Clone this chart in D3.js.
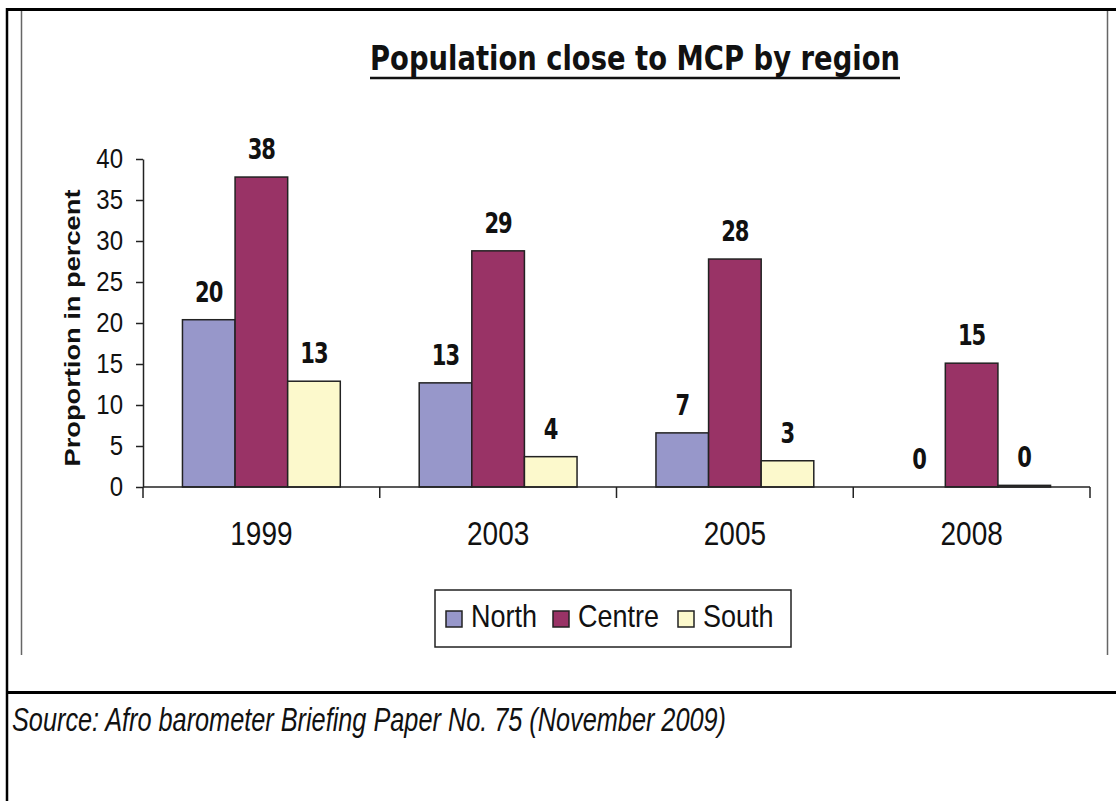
<!DOCTYPE html>
<html>
<head>
<meta charset="utf-8">
<script src="https://cdn.jsdelivr.net/npm/d3@7"></script>
<style>
body { margin: 0; background: #fff; }
svg text { font-family: "Liberation Sans", Arial, sans-serif; fill: #111; }
</style>
</head>
<body>
<div class="diagram"></div>
<script>
var years = ['1999', '2003', '2005', '2008'];
var regions = ['North', 'Centre', 'South'];
var north = [20.4, 12.7, 6.6, 0];
var centre = [37.8, 28.8, 27.8, 15.1];
var south = [12.9, 3.7, 3.2, 0.2];
var yTicks = [0, 5, 10, 15, 20, 25, 30, 35, 40];
var colors = ['#9797ca', '#993366', '#fcf9cc'];

var width = 1116, height = 801;
var series = [north, centre, south];

var svg = d3.select('.diagram')
	.append('svg')
	.attr('width', width)
	.attr('height', height);

// page frame (table cell + picture edges)
var frame = svg.append('g').attr('class', 'frame');
frame.append('line').attr('x1', 6).attr('x2', width).attr('y1', 9.5).attr('y2', 9.5)
	.attr('stroke', '#000').attr('stroke-width', 3);
frame.append('line').attr('x1', 7).attr('x2', 7).attr('y1', 8).attr('y2', height)
	.attr('stroke', '#000').attr('stroke-width', 2.5);
frame.append('line').attr('x1', 6).attr('x2', width).attr('y1', 692.5).attr('y2', 692.5)
	.attr('stroke', '#000').attr('stroke-width', 3);
[21.5, 1107.5].forEach(function(x) {
	frame.append('line').attr('x1', x).attr('x2', x).attr('y1', 11).attr('y2', 655)
		.attr('stroke', '#666').attr('stroke-width', 1.5);
});

var x = d3.scaleBand()
	.domain(years)
	.range([143, 1090])
	.paddingInner(1 / 3)
	.paddingOuter(1 / 6);

var x1 = d3.scaleBand()
	.domain(regions)
	.range([0, x.bandwidth()]);

var y = d3.scaleLinear()
	.domain([0, 40])
	.range([487, 159]);

var color = d3.scaleOrdinal().domain(regions).range(colors);

// title
svg.append('text')
	.attr('transform', 'translate(635,70) scale(1,1.1)')
	.attr('text-anchor', 'middle')
	.attr('textLength', 530)
	.attr('lengthAdjust', 'spacingAndGlyphs')
	.style('font-family', '"Liberation Sans Narrow", "DejaVu Sans Condensed", sans-serif')
	.style('font-weight', 'bold')
	.style('font-size', '31px')
	.text('Population close to MCP by region');
svg.append('line').attr('x1', 370).attr('x2', 900).attr('y1', 78).attr('y2', 78)
	.attr('stroke', '#111').attr('stroke-width', 2.5);

// y axis
svg.append('g')
	.attr('class', 'y axis')
	.attr('transform', 'translate(143,0)')
	.call(d3.axisLeft(y).tickValues(yTicks).tickSize(7).tickSizeOuter(0).tickPadding(13))
	.call(function(g) {
		g.selectAll('line, path').attr('stroke', '#222').attr('stroke-width', 1.5);
		g.selectAll('text')
			.attr('transform', 'scale(1,1.15)')
			.style('font-size', '24px')
			.style('font-family', '"Liberation Sans", Arial, sans-serif')
			.attr('fill', '#111');
	});

svg.append('text')
	.attr('transform', 'translate(80,328) rotate(-90)')
	.attr('text-anchor', 'middle')
	.attr('textLength', 277)
	.attr('lengthAdjust', 'spacingAndGlyphs')
	.style('font-weight', 'bold')
	.style('font-size', '22px')
	.text('Proportion in percent');

// bars
var groups = svg.append('g')
	.attr('class', 'bars')
	.selectAll('.group')
	.data(years)
	.enter().append('g')
	.attr('class', 'group')
	.attr('transform', function(d) { return 'translate(' + x(d) + ',0)'; });

groups.selectAll('rect')
	.data(function(d, i) { return regions.map(function(r, j) { return { region: r, value: series[j][i] }; }); })
	.enter().append('rect')
	.attr('x', function(d) { return x1(d.region); })
	.attr('y', function(d) { return y(d.value); })
	.attr('width', x1.bandwidth())
	.attr('height', function(d) { return y(0) - y(d.value); })
	.attr('fill', function(d) { return color(d.region); })
	.attr('stroke', function(d) { return d.value > 0 ? '#222' : 'none'; })
	.attr('stroke-width', 1.5);

groups.selectAll('.label')
	.data(function(d, i) { return regions.map(function(r, j) { return { region: r, value: series[j][i] }; }); })
	.enter().append('text')
	.attr('class', 'label')
	.attr('transform', function(d) {
		return 'translate(' + (x1(d.region) + x1.bandwidth() / 2) + ',' + (y(d.value) - 18) + ') scale(0.9,1.1)';
	})
	.attr('text-anchor', 'middle')
	.style('font-family', '"Liberation Sans Narrow", "DejaVu Sans Condensed", sans-serif')
	.style('font-weight', 'bold')
	.style('font-size', '26px')
	.style('letter-spacing', '-1px')
	.text(function(d) { return d3.format('.0f')(d.value); });

// x axis
svg.append('line')
	.attr('x1', 143).attr('x2', 1090)
	.attr('y1', y(0)).attr('y2', y(0))
	.attr('stroke', '#222').attr('stroke-width', 1.5);

svg.append('g')
	.selectAll('line')
	.data(d3.range(years.length + 1))
	.enter().append('line')
	.attr('x1', function(i) { return x.range()[0] + i * x.step(); })
	.attr('x2', function(i) { return x.range()[0] + i * x.step(); })
	.attr('y1', y(0))
	.attr('y2', y(0) + 11)
	.attr('stroke', '#222').attr('stroke-width', 1.5);

svg.append('g')
	.selectAll('text')
	.data(years)
	.enter().append('text')
	.attr('transform', function(d) { return 'translate(' + (x(d) + x.bandwidth() / 2) + ',545) scale(1,1.2)'; })
	.attr('text-anchor', 'middle')
	.style('font-size', '28px')
	.text(function(d) { return d; });

// legend
var legend = svg.append('g').attr('class', 'legend');
legend.append('rect')
	.attr('x', 435).attr('y', 590)
	.attr('width', 356).attr('height', 57)
	.attr('fill', '#fff').attr('stroke', '#222').attr('stroke-width', 1.5);

var legendX = [446, 553, 678];
var items = legend.selectAll('.item')
	.data(regions)
	.enter().append('g')
	.attr('class', 'item')
	.attr('transform', function(d, i) { return 'translate(' + legendX[i] + ',0)'; });

items.append('rect')
	.attr('x', 0).attr('y', 611)
	.attr('width', 16).attr('height', 16)
	.attr('fill', function(d) { return color(d); })
	.attr('stroke', '#222').attr('stroke-width', 1.5);

items.append('text')
	.attr('transform', 'translate(25,627) scale(1,1.18)')
	.style('font-size', '27px')
	.text(function(d) { return d; });

// source note
svg.append('text')
	.attr('transform', 'translate(12,731) scale(1,1.3)')
	.attr('textLength', 714)
	.attr('lengthAdjust', 'spacingAndGlyphs')
	.style('font-style', 'italic')
	.style('font-size', '25px')
	.text('Source: Afro barometer Briefing Paper No. 75 (November 2009)');
</script>
</body>
</html>
